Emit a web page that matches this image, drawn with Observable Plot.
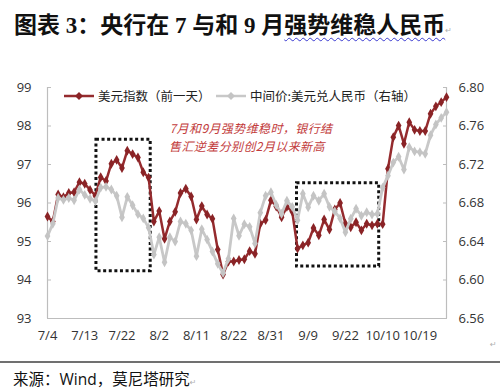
<!DOCTYPE html>
<html>
<head>
<meta charset="utf-8">
<script src="https://cdn.jsdelivr.net/npm/d3@7"></script>
<script src="https://cdn.jsdelivr.net/npm/@observablehq/plot@0.6"></script>
<style>
  body { margin: 0; background: #fff; }
  #wrap { position: relative; width: 500px; height: 390px; overflow: hidden; background: #fff;
          font-family: "Noto Sans CJK SC", sans-serif; }
  #title { position: absolute; left: 14px; top: 12px; font-size: 23px; line-height: 28px; font-weight: bold;
           color: #111; white-space: nowrap; font-family: "Liberation Serif", "Noto Sans CJK SC", serif; }
  #title .wavy { text-decoration: underline wavy #3a3ad0; text-decoration-thickness: 1px; text-underline-offset: 4px; }
  .pm { color: #b0b0b0; font-size: 8px; font-family: "DejaVu Sans", sans-serif; font-weight: normal; }
  #chart { position: absolute; left: 0; top: 45px; }
  .leg { position: absolute; display: flex; align-items: center; font-size: 12.5px; color: #222; white-space: nowrap; }
  .leg svg { margin-right: 4px; }
  .note { position: absolute; width: 200px; text-align: center; font-size: 12px; letter-spacing: 0.4px;
          line-height: 14px; height: 14px; font-style: italic; color: #c23b3b; white-space: nowrap; }
  #rule { position: absolute; left: 0; top: 361px; width: 500px; height: 0; border-top: 2px solid #707070; }
  #source { position: absolute; left: 13px; top: 368px; font-size: 15.5px; line-height: 22px; color: #111;
            font-family: "Open Sans", "Noto Sans CJK SC", sans-serif; white-space: nowrap; }
</style>
</head>
<body>
<div id="wrap">
  <div id="title">图表 3：央行在 7 与和 9 月<span class="wavy">强势维稳人民币</span><span class="pm">↵</span></div>
  <div id="chart"></div>
  <div class="leg" style="left:64px; top:86px;">
    <svg width="30" height="12"><line x1="0" y1="6" x2="30" y2="6" stroke="#952b2e" stroke-width="2.5"/><path d="M15,2 L19,6 L15,10 L11,6 Z" fill="#8a2326"/></svg>
    <span>美元指数（前一天）</span>
  </div>
  <div class="leg" style="left:216px; top:86px;">
    <svg width="30" height="12"><line x1="0" y1="6" x2="30" y2="6" stroke="#c8c8c8" stroke-width="2.5"/><path d="M15,2 L19,6 L15,10 L11,6 Z" fill="#c4c4c4"/></svg>
    <span>中间价:美元兑人民币（右轴）</span>
  </div>
  <div class="note" style="left:151px; top:121px;">7月和9月强势维稳时，银行结</div>
  <div class="note" style="left:147px; top:139px;">售汇逆差分别创2月以来新高</div>
  <div class="pm" style="position:absolute; left:490px; top:340px;">↵</div>
  <div id="rule"></div>
  <div id="source">来源：Wind，莫尼塔研究<span class="pm">↵</span></div>
</div>
<script>
// ---- data ----
const xTickLabels = ["7/4","7/13","7/22","8/2","8/11","8/22","8/31","9/9","9/22","10/10","10/19"];
const leftTicks = [93, 94, 95, 96, 97, 98, 99];
const rightTicks = [6.56, 6.60, 6.64, 6.68, 6.72, 6.76, 6.80];

// US dollar index (previous day), left axis
const usdIndex = [
  95.65,95.52,96.22,96.15,96.26,96.28,96.54,96.50,96.34,96.19,
  96.67,96.57,97.02,97.12,96.91,97.36,97.27,97.18,96.80,96.66,
  95.52,95.79,95.07,95.52,95.77,96.26,96.37,96.17,95.57,95.92,
  95.70,95.59,94.79,94.14,94.48,94.48,94.52,94.54,94.75,94.68,
  95.46,95.56,96.07,95.91,95.63,95.90,95.78,94.82,94.90,94.97,
  95.35,95.16,95.57,95.31,95.83,96.00,95.46,95.37,95.50,95.29,
  95.46,95.42,95.46,95.45,96.89,97.71,98.01,97.54,98.10,97.90,
  97.87,97.87,98.32,98.51,98.62,98.75
];
// Central parity USD/CNY, right axis
const midRate = [
  6.6456,6.6584,6.6852,6.6832,6.6852,6.6828,6.6940,6.6884,6.6844,6.6820,
  6.6960,6.6968,6.6940,6.6876,6.6652,6.6864,6.6776,6.6684,6.6640,6.6544,
  6.6264,6.6444,6.6184,6.6444,6.6400,6.6608,6.6584,6.6516,6.6248,6.6528,
  6.6420,6.6296,6.6168,6.6072,6.6220,6.6640,6.6460,6.6580,6.6552,6.6380,
  6.6700,6.6876,6.6912,6.6780,6.6688,6.6824,6.6760,6.6620,6.6896,6.6756,
  6.6876,6.6824,6.6896,6.6760,6.6712,6.6640,6.6496,6.6636,6.6740,6.6668,
  6.6704,6.6680,6.6688,6.6960,6.7084,6.7220,6.7280,6.7148,6.7380,6.7336,
  6.7328,6.7312,6.7504,6.7616,6.7684,6.7744
];
// dotted highlight boxes (x in trading-day index, y in left-axis units)
const highlightBoxes = [
  {x1: 9.2, x2: 19.4, y1: 94.23, y2: 97.64},
  {x1: 46.9, x2: 62.35, y1: 94.35, y2: 96.51}
];

// ---- build ----
const n = usdIndex.length;
const toLeft = r => Math.round((93 + (r - 6.56) / 0.04) * 1e6) / 1e6;
const fromLeft = v => 6.56 + (v - 93) * 0.04;
const rows = usdIndex.map((v, i) => ({i, usd: v, mid: toLeft(midRate[i])}));
const tickIdx = xTickLabels.map((_, k) => k * 7);
const labelAt = new Map(tickIdx.map((t, k) => [t, xTickLabels[k]]));

const red = "#952b2e", redMark = "#8a2326", gray = "#c8c8c8", grayMark = "#c4c4c4";

const chart = Plot.plot({
  width: 500,
  height: 310,
  marginTop: 42,
  marginBottom: 37,
  marginLeft: 47,
  marginRight: 54,
  x: {domain: [0, n - 1]},
  y: {domain: [93, 99]},
  style: {fontFamily: "'Open Sans', 'Noto Sans', sans-serif", fontSize: "13px", color: "#333", background: "transparent", overflow: "visible"},
  marks: [
    Plot.ruleX([0, n - 1], {stroke: "#bdbdbd", strokeWidth: 1.2}),
    Plot.ruleY([93], {stroke: "#bdbdbd", strokeWidth: 1.2}),
    Plot.axisX({ticks: tickIdx, tickFormat: d => labelAt.get(d), tickSize: 0, tickPadding: 12, label: null, fill: "#333"}),
    Plot.axisY({anchor: "left", ticks: leftTicks, tickFormat: d => String(d), tickSize: -4, tickPadding: 20, stroke: "#bdbdbd", label: null, fill: "#333"}),
    Plot.axisY({anchor: "right", ticks: rightTicks.map(toLeft), tickFormat: d => fromLeft(d).toFixed(2), tickSize: -4, tickPadding: 16, stroke: "#bdbdbd", label: null, fill: "#333"}),
    Plot.rect(highlightBoxes, {x1: "x1", x2: "x2", y1: "y1", y2: "y2", fill: "none", stroke: "#111", strokeWidth: 3, strokeDasharray: "3,2.6"}),
    Plot.line(rows, {x: "i", y: "usd", stroke: red, strokeWidth: 2.5}),
    Plot.dot(rows, {x: "i", y: "usd", symbol: "diamond", r: 3, fill: redMark, stroke: "none"}),
    Plot.line(rows, {x: "i", y: "mid", stroke: gray, strokeWidth: 2.8}),
    Plot.dot(rows, {x: "i", y: "mid", symbol: "diamond", r: 3, fill: grayMark, stroke: "none"})
  ]
});
document.getElementById("chart").appendChild(chart);
</script>
</body>
</html>
